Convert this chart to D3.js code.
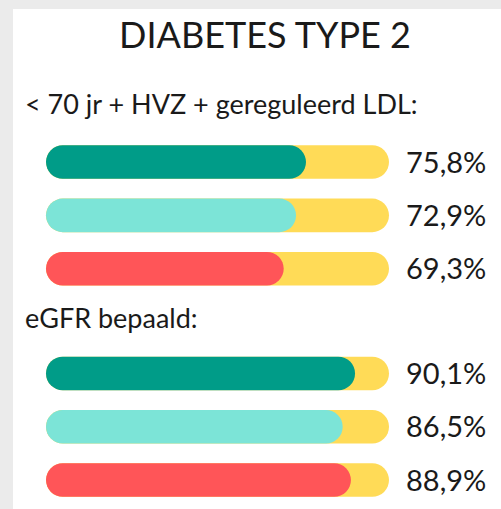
<!DOCTYPE html>
<html>
<head>
<meta charset="utf-8">
<script src="https://cdn.jsdelivr.net/npm/d3@7"></script>
<style>
  html, body { margin: 0; padding: 0; background: #ebebeb; }
  svg { display: block; }
  text { font-family: Lato, "Open Sans", sans-serif; fill: #1a1a1a; }
</style>
</head>
<body>
<svg width="501" height="509"></svg>
<script>
var title = "DIABETES TYPE 2";
var groups = ["< 70 jr + HVZ + gereguleerd LDL:", "eGFR bepaald:"];
var series = ["reeks 1", "reeks 2", "reeks 3"];
var ldlValues = [75.8, 72.9, 69.3];
var egfrValues = [90.1, 86.5, 88.9];

var colors = ["#009c88", "#7ce4d7", "#ff5558"];
var trackColor = "#ffdb57";

var svg = d3.select("svg");
var width = +svg.attr("width");
var height = +svg.attr("height");

// white panel
svg.append("rect")
    .attr("x", 13).attr("y", 9)
    .attr("width", width - 13).attr("height", height - 9)
    .attr("fill", "#ffffff");

svg.append("text")
    .attr("x", 265).attr("y", 48)
    .attr("text-anchor", "middle")
    .style("font-size", "36px")
    .text(title);

var x = d3.scaleLinear().domain([0, 100]).range([46, 389]);
var nl = d3.formatLocale({decimal: ",", thousands: ".", grouping: [3], currency: ["€", ""]});
var fmt = nl.format(".1f");

var blocks = [
    {label: groups[0], values: ldlValues, labelY: 114, top: 145.3},
    {label: groups[1], values: egfrValues, labelY: 328, top: 356.7}
];

blocks.forEach(function (b) {
    svg.append("text")
        .attr("x", 25).attr("y", b.labelY)
        .style("font-size", "27px")
        .text(b.label);

    var y = d3.scaleBand()
        .domain(series)
        .range([b.top, b.top + 53.3 * (series.length - 0.371)])
        .paddingInner(0.371)
        .paddingOuter(0);

    var rows = svg.append("g").selectAll("g")
        .data(series.map(function (s, i) { return {name: s, value: b.values[i], color: colors[i]}; }))
        .enter().append("g");

    var r = y.bandwidth() / 2;

    rows.append("rect")
        .attr("x", x(0))
        .attr("y", function (d) { return y(d.name); })
        .attr("width", x(100) - x(0))
        .attr("height", y.bandwidth())
        .attr("rx", r).attr("ry", r)
        .attr("fill", trackColor);

    rows.append("rect")
        .attr("x", x(0))
        .attr("y", function (d) { return y(d.name); })
        .attr("width", function (d) { return x(d.value) - x(0); })
        .attr("height", y.bandwidth())
        .attr("rx", r).attr("ry", r)
        .attr("fill", function (d) { return d.color; });

    rows.append("text")
        .attr("x", 406)
        .attr("y", function (d) { return y(d.name) + r; })
        .attr("dy", "0.36em")
        .style("font-size", "29px")
        .text(function (d) { return fmt(d.value) + "%"; });
});
</script>
</body>
</html>
